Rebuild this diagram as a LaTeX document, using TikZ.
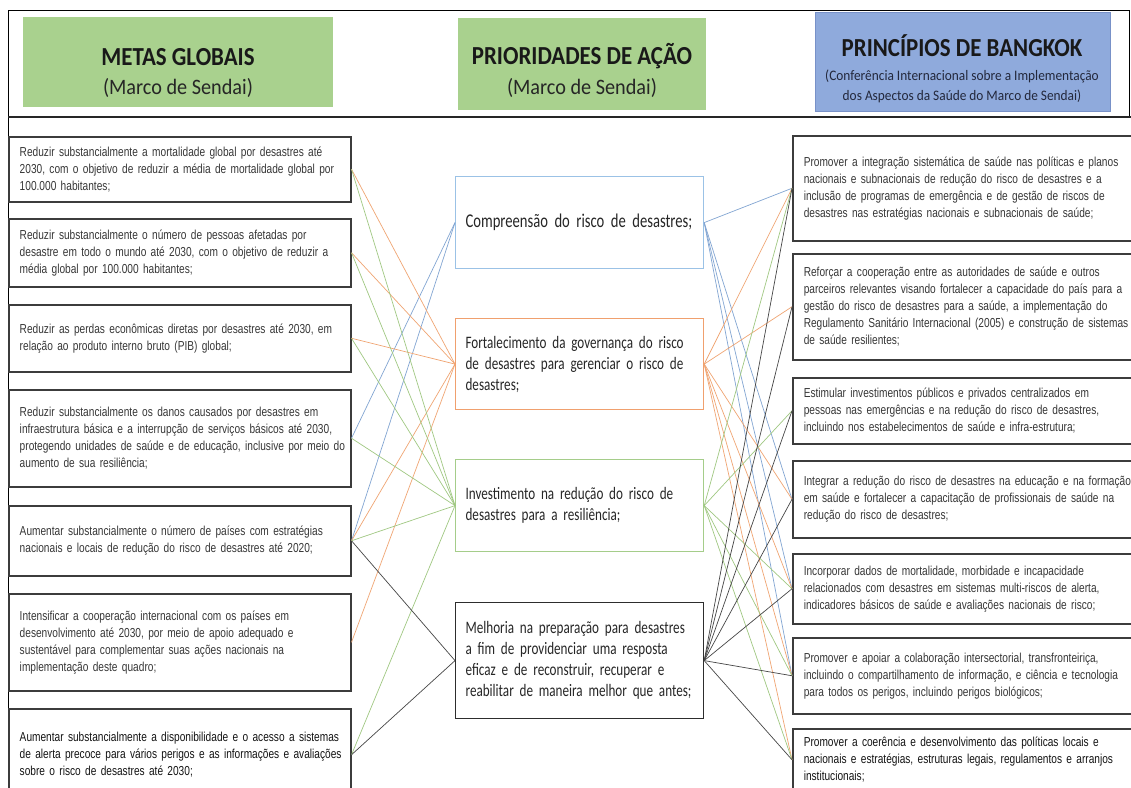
\documentclass[tikz,border=0pt]{standalone}
\usepackage{fontspec}
\setmainfont{Liberation Sans}
\newfontfamily\bodyfont[FakeStretch=0.78]{Liberation Sans}
\newfontfamily\calfont[FakeStretch=0.75]{Carlito}
\newfontfamily\hdrfont[FakeStretch=0.88]{Carlito}
\newfontfamily\subfont[FakeStretch=0.92]{Carlito}
\definecolor{hgreen}{RGB}{169,209,142}
\definecolor{hblue}{RGB}{143,170,220}
\definecolor{boxgray}{RGB}{60,60,60}
\definecolor{bodygray}{RGB}{55,55,55}
\definecolor{bodydark}{RGB}{20,20,20}
\definecolor{mblue}{RGB}{155,194,230}
\definecolor{morange}{RGB}{240,160,110}
\definecolor{mgreen}{RGB}{165,205,138}
\definecolor{mdark}{RGB}{45,45,45}
\definecolor{cblue}{RGB}{130,165,210}
\definecolor{corange}{RGB}{240,165,115}
\definecolor{cgreen}{RGB}{160,200,130}
\definecolor{cdark}{RGB}{70,70,70}
\newcommand\jl[1]{\makebox[320pt][s]{#1}}
\newcommand\jr[1]{\makebox[330pt][s]{#1}}
\tikzset{
  lbox/.style={draw=boxgray, line width=1.5pt, fill=white, anchor=north west,
    text width=320pt, inner xsep=11pt, inner ysep=1pt, align=left,
    font=\bodyfont\fontsize{13}{17}\selectfont, text=bodygray},
  rbox/.style={lbox, text width=330pt},
  mbox/.style={line width=1.2pt, fill=white, anchor=north west,
    text width=228pt, inner xsep=10pt, inner ysep=1pt, align=left,
    execute at begin node={\hyphenpenalty=10000\relax},
    font=\calfont\fontsize{17.5}{21}\selectfont, text=black!85},
  hbox/.style={inner sep=0pt, anchor=north west},
  htitle/.style={font=\hdrfont\bfseries\fontsize{26}{28}\selectfont, text=black!90, inner sep=0pt},
  hsub/.style={font=\subfont\fontsize{22}{24}\selectfont, text=black!85, inner sep=0pt},
  hsubsmall/.style={font=\subfont\fontsize{14.5}{20}\selectfont, text={rgb,255:red,35;green,40;blue,60}, inner sep=0pt, align=center},
  conn/.style={line width=0.7pt},
}
\begin{document}
\begin{tikzpicture}[x=1pt,y=-1pt]
\useasboundingbox (0,0) rectangle (1131,787);
\fill[white] (0,0) rectangle (1131,787);
\clip (0,0) rectangle (1131,787);

% frame and header
\draw[line width=1pt, black] (8,787) -- (8,10) -- (1129,10) -- (1129,117);
\draw[line width=2.6pt, black!85] (8,117) -- (1131,117);

\node[hbox, fill=hgreen, minimum width=310pt, minimum height=90pt] (G1) at (23,17) {};
\node[hbox, fill=hgreen, minimum width=248pt, minimum height=92pt] (G2) at (458,18) {};
\node[hbox, fill=hblue, draw={rgb,255:red,120;green,145;blue,200}, line width=0.6pt, minimum width=295pt, minimum height=99pt] (B3) at (815,12) {};

\node[htitle] (t1) at (178,57) {METAS GLOBAIS};
\node[hsub] (s1) at (178,88) {(Marco de Sendai)};
\node[htitle] (t2) at (582,56) {PRIORIDADES DE AÇÃO};
\node[hsub] (s2) at (582,88) {(Marco de Sendai)};
\node[htitle] (t3) at (962,46) {PRINCÍPIOS DE BANGKOK};
\node[hsubsmall] (s3) at (962,86) {(Conferência Internacional sobre a Implementação\\dos Aspectos da Saúde do Marco de Sendai)};

% left boxes
\node[lbox, minimum height=65pt] (L1) at (8,136) {\jl{Reduzir substancialmente a mortalidade global por desastres até}\\\jl{2030, com o objetivo de reduzir a média de mortalidade global por}\\100.000 habitantes;};
\node[lbox, minimum height=68pt] (L2) at (8,218) {\jl{Reduzir substancialmente o número de pessoas afetadas por}\\\jl{desastre em todo o mundo até 2030, com o objetivo de reduzir a}\\média global por 100.000 habitantes;};
\node[lbox, minimum height=67pt] (L3) at (8,304) {\jl{Reduzir as perdas econômicas diretas por desastres até 2030, em}\\relação ao produto interno bruto (PIB) global;};
\node[lbox, minimum height=97pt] (L4) at (8,389) {\jl{Reduzir substancialmente os danos causados por desastres em}\\\jl{infraestrutura básica e a interrupção de serviços básicos até 2030,}\\\jl{protegendo unidades de saúde e de educação, inclusive por meio do}\\aumento de sua resiliência;};
\node[lbox, minimum height=70pt] (L5) at (8,505) {\jl{Aumentar substancialmente o número de países com estratégias}\\nacionais e locais de redução do risco de desastres até 2020;};
\node[lbox, minimum height=97pt] (L6) at (8,593) {\jl{Intensificar a cooperação internacional com os países em}\\\jl{desenvolvimento até 2030, por meio de apoio adequado e}\\\jl{sustentável para complementar suas ações nacionais na}\\implementação deste quadro;};
\node[lbox, minimum height=92pt, text=bodydark] (L7) at (8,708) {\jl{Aumentar substancialmente a disponibilidade e o acesso a sistemas}\\\jl{de alerta precoce para vários perigos e as informações e avaliações}\\sobre o risco de desastres até 2030;};

% middle boxes
\node[mbox, draw=mblue, minimum height=92pt, font=\calfont\fontsize{19.5}{23}\selectfont] (M1) at (455,176) {Compreensão do risco de desastres;};
\node[mbox, draw=morange, minimum height=91pt] (M2) at (455,318) {Fortalecimento da governança do risco\\de desastres para gerenciar o risco de\\desastres;};
\node[mbox, draw=mgreen, minimum height=92pt] (M3) at (455,459) {Investimento na redução do risco de\\desastres para a resiliência;};
\node[mbox, draw=mdark, minimum height=116pt] (M4) at (455,602) {Melhoria na preparação para desastres\\a fim de providenciar uma resposta\\eficaz e de reconstruir, recuperar e\\reabilitar de maneira melhor que antes;};

% right boxes
\node[rbox, minimum height=105pt] (R1) at (792,135) {\jr{Promover a integração sistemática de saúde nas políticas e planos}\\\jr{nacionais e subnacionais de redução do risco de desastres e a}\\\jr{inclusão de programas de emergência e de gestão de riscos de}\\desastres nas estratégias nacionais e subnacionais de saúde;};
\node[rbox, minimum height=106pt] (R2) at (792,253) {\jr{Reforçar a cooperação entre as autoridades de saúde e outros}\\\jr{parceiros relevantes visando fortalecer a capacidade do país para a}\\\jr{gestão do risco de desastres para a saúde, a implementação do}\\\jr{Regulamento Sanitário Internacional (2005) e construção de sistemas}\\de saúde resilientes;};
\node[rbox, minimum height=66pt] (R3) at (792,377) {\jr{Estimular investimentos públicos e privados centralizados em}\\\jr{pessoas nas emergências e na redução do risco de desastres,}\\incluindo nos estabelecimentos de saúde e infra-estrutura;};
\node[rbox, minimum height=77pt] (R4) at (792,460) {\jr{Integrar a redução do risco de desastres na educação e na formação}\\\jr{em saúde e fortalecer a capacitação de profissionais de saúde na}\\redução do risco de desastres;};
\node[rbox, minimum height=70pt] (R5) at (792,553) {\jr{Incorporar dados de mortalidade, morbidade e incapacidade}\\\jr{relacionados com desastres em sistemas multi-riscos de alerta,}\\indicadores básicos de saúde e avaliações nacionais de risco;};
\node[rbox, minimum height=76pt] (R6) at (792,637) {\jr{Promover e apoiar a colaboração intersectorial, transfronteiriça,}\\\jr{incluindo o compartilhamento de informação, e ciência e tecnologia}\\para todos os perigos, incluindo perigos biológicos;};
\node[rbox, minimum height=62pt, text=bodydark] (R7) at (792,728) {\jr{Promover a coerência e desenvolvimento das políticas locais e}\\\jr{nacionais e estratégias, estruturas legais, regulamentos e arranjos}\\institucionais;};

% connectors left
\foreach \l in {L4,L5} \draw[conn, cblue] (\l.east) -- (M1.west);
\foreach \l in {L1,L2,L3,L5,L6} \draw[conn, corange] (\l.east) -- (M2.west);
\foreach \l in {L1,L2,L3,L4,L5,L7} \draw[conn, cgreen] (\l.east) -- (M3.west);
\foreach \l in {L5,L7} \draw[conn, cdark] (\l.east) -- (M4.west);
% connectors right
\foreach \r in {R1,R4,R5,R6} \draw[conn, cblue] (M1.east) -- (\r.west);
\foreach \r in {R1,R2,R4,R5,R6,R7} \draw[conn, corange] (M2.east) -- (\r.west);
\foreach \r in {R1,R3,R5,R6,R7} \draw[conn, cgreen] (M3.east) -- (\r.west);
\foreach \r in {R1,R2,R3,R4,R5,R6,R7} \draw[conn, cdark] (M4.east) -- (\r.west);
\end{tikzpicture}
\end{document}
